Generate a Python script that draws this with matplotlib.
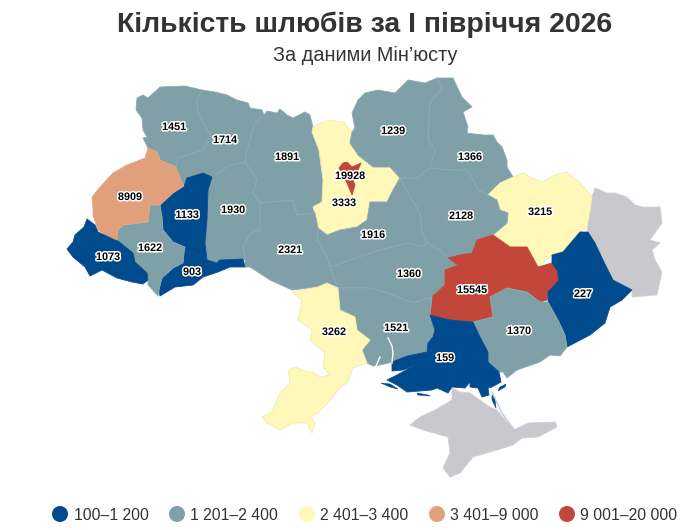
import numpy as np
import matplotlib
matplotlib.use("Agg")
import matplotlib.pyplot as plt
from matplotlib.patches import Polygon, Ellipse
import matplotlib.patheffects as pe

plt.rcParams['font.family'] = ['Liberation Sans', 'DejaVu Sans']

title = "Кількість шлюбів за І півріччя 2026"
subtitle = "За даними Мін’юсту"
legend_labels = ["100–1 200", "1 201–2 400", "2 401–3 400", "3 401–9 000", "9 001–20 000"]
bin_edges = [1200, 2400, 3400, 9000]
colors = ["#004b8d", "#7fa0a6", "#fff8b8", "#e0a07c", "#c2473a"]
edge_colors = ["#0a4f90", "#8dabb5", "#f0eab4", "#e0a884", "#c2473a"]
no_data_color = "#c8c8cd"

region_values = {
    "Volyn": 1451, "Rivne": 1714, "Zhytomyr": 1891, "Khmelnytskyi": 1930, "Ternopil": 1133,
    "Lviv": 8909, "IvanoFrankivsk": 1622, "Zakarpattia": 1073, "Chernivtsi": 903, "Vinnytsia": 2321,
    "KyivObl": 3333, "Chernihiv": 1239, "Sumy": 1366, "Poltava": 2128, "Cherkasy": 1916,
    "Kharkiv": 3215, "Kirovohrad": 1360, "Dnipro": 15545, "Donetsk": 227, "Odesa": 3262,
    "Mykolaiv": 1521, "Zaporizhzhia": 1370, "Kherson": 159, "KyivCity": 19928,
}

label_xy = {
    "Volyn": (174, 127), "Rivne": (225, 140), "Zhytomyr": (287, 157), "Khmelnytskyi": (233, 210),
    "Ternopil": (187, 215), "Lviv": (130, 197), "IvanoFrankivsk": (150, 248), "Zakarpattia": (108, 257),
    "Chernivtsi": (192, 272), "Vinnytsia": (290, 250), "KyivCity": (350, 176), "KyivObl": (344, 203),
    "Chernihiv": (393, 131), "Sumy": (470, 157), "Poltava": (461, 216), "Cherkasy": (373, 235),
    "Kharkiv": (540, 212), "Kirovohrad": (409, 274), "Dnipro": (472, 290), "Donetsk": (583, 294),
    "Odesa": (334, 332), "Mykolaiv": (396, 328), "Zaporizhzhia": (519, 331), "Kherson": (445, 358),
}

outlines = {
    "Volyn": [(137,98),(136,110),(142,118),(143,130),(147,137),(143,138),(148,148),(157,152),(160,160),(176,167),(177,168),(178,158),(202,150),(212,137),(198,113),(197,100),(202,90),(185,86),(160,87),(148,98),(143,95)],
    "Rivne": [(202,90),(215,92),(227,95),(237,100),(248,103),(250,108),(262,110),(264,115),(255,123),(247,150),(245,162),(230,165),(212,177),(203,173),(187,178),(184,186),(180,178),(176,167),(178,158),(202,150),(212,137),(198,113),(197,100)],
    "Zhytomyr": [(264,115),(267,111),(277,113),(280,109),(287,115),(293,118),(305,112),(310,115),(313,127),(312,132),(319,150),(323,180),(322,202),(313,207),(315,213),(297,215),(293,200),(260,203),(253,193),(257,180),(245,162),(247,150),(255,123)],
    "KyivObl": [(313,127),(327,120),(343,122),(352,132),(350,143),(358,155),(373,167),(390,167),(400,178),(393,190),(387,202),(370,202),(367,220),(357,227),(340,230),(327,235),(318,228),(315,213),(313,207),(322,202),(323,180),(319,150),(312,132)],
    "KyivCity": [(339,168),(343,163),(347,162),(352,167),(361,163),(358,170),(352,178),(355,185),(352,195),(347,183),(341,172)],
    "Chernihiv": [(352,113),(358,100),(365,93),(378,90),(395,93),(408,80),(425,83),(437,78),(442,88),(430,103),(428,140),(435,150),(430,168),(417,178),(400,178),(390,167),(373,167),(358,155),(350,143),(352,132),(355,128)],
    "Sumy": [(437,78),(453,78),(462,97),(472,107),(463,112),(468,127),(467,133),(483,135),(493,135),(497,142),(502,147),(507,160),(507,167),(513,177),(500,183),(488,195),(478,190),(468,170),(450,170),(430,168),(435,150),(428,140),(430,103),(442,88)],
    "Kharkiv": [(488,195),(500,183),(513,177),(523,173),(532,178),(542,182),(555,175),(567,172),(580,183),(592,197),(590,212),(587,227),(580,232),(563,252),(552,255),(538,267),(527,247),(510,247),(493,235),(507,223),(508,213),(500,210),(497,200)],
    "Poltava": [(400,178),(417,178),(430,168),(450,170),(468,170),(478,190),(488,195),(497,200),(500,210),(508,213),(507,223),(493,235),(477,240),(472,253),(448,258),(440,250),(427,243),(422,233),(420,213),(408,193)],
    "Cherkasy": [(327,235),(340,230),(357,227),(367,220),(370,202),(387,202),(393,190),(400,178),(408,193),(420,213),(422,233),(427,243),(422,247),(410,243),(380,250),(350,260),(330,267),(327,257),(317,240),(318,228)],
    "Vinnytsia": [(260,203),(293,200),(297,215),(315,213),(318,228),(317,240),(327,257),(330,267),(338,288),(327,283),(317,287),(292,290),(270,280),(250,267),(245,267),(245,260),(243,247),(250,233),(260,230)],
    "Khmelnytskyi": [(212,177),(230,165),(245,162),(257,180),(253,193),(260,203),(260,230),(250,233),(243,247),(245,259),(220,260),(217,263),(207,260),(205,243),(207,220),(208,190)],
    "Ternopil": [(187,178),(203,173),(212,177),(208,190),(207,220),(205,243),(207,260),(195,253),(184,253),(185,247),(173,242),(163,230),(162,217),(160,205),(173,193),(184,186)],
    "Chernivtsi": [(184,253),(195,253),(207,260),(217,263),(220,260),(243,259),(245,267),(230,267),(218,272),(203,277),(193,285),(175,287),(160,296),(159,290),(162,278),(173,268),(183,263)],
    "IvanoFrankivsk": [(150,205),(160,205),(162,217),(163,230),(173,242),(185,247),(184,253),(183,263),(173,268),(162,278),(159,290),(158,296),(148,285),(148,280),(147,273),(135,262),(133,253),(118,241),(117,240),(118,230),(123,225),(148,222)],
    "Lviv": [(148,148),(157,152),(160,160),(176,167),(180,178),(184,186),(173,193),(160,205),(150,205),(148,222),(123,225),(118,230),(117,240),(110,238),(98,230),(93,215),(93,208),(92,197),(100,187),(113,173),(127,165),(145,158)],
    "Zakarpattia": [(87,219),(95,225),(98,232),(115,240),(118,241),(133,253),(135,262),(147,273),(148,280),(143,284),(132,282),(117,278),(102,270),(90,276),(85,267),(73,257),(67,249),(73,242),(75,235),(84,227)],
    "Kirovohrad": [(330,267),(350,260),(380,250),(410,243),(422,247),(427,243),(440,250),(448,258),(458,265),(445,270),(445,285),(432,297),(413,303),(387,293),(370,288),(338,288)],
    "Dnipro": [(448,258),(460,255),(472,253),(477,240),(493,235),(510,247),(527,247),(538,267),(552,263),(557,270),(559,280),(548,292),(547,300),(540,302),(527,292),(507,288),(490,297),(493,317),(473,322),(450,320),(430,315),(432,297),(445,285),(445,270),(458,265)],
    "Donetsk": [(552,255),(563,252),(580,232),(588,232),(595,243),(603,260),(613,280),(632,290),(622,300),(610,307),(605,323),(590,335),(567,347),(565,335),(558,320),(548,302),(548,292),(559,280),(557,270),(552,263)],
    "Mykolaiv": [(338,288),(370,288),(387,293),(413,303),(432,297),(430,315),(435,330),(433,337),(428,343),(427,352),(407,356),(393,362),(380,365),(373,366),(367,363),(362,350),(370,340),(357,330),(355,317),(340,310)],
    "Zaporizhzhia": [(490,297),(507,288),(527,292),(540,302),(548,302),(558,320),(565,335),(567,347),(560,356),(550,355),(540,362),(517,370),(507,378),(503,372),(499,372),(488,362),(488,352),(480,337),(473,322),(493,317)],
    "Kherson": [(430,315),(450,320),(473,322),(480,337),(488,352),(488,362),(499,372),(501,382),(492,387),(488,388),(489,395),(482,397),(478,388),(470,387),(470,382),(465,388),(452,387),(448,393),(437,388),(432,390),(407,392),(397,385),(387,380),(397,375),(415,365),(403,370),(392,371),(392,362),(407,356),(427,352),(428,343),(433,337),(435,330)],
    "Odesa": [(292,292),(318,287),(327,283),(338,288),(340,310),(355,317),(357,330),(370,340),(362,350),(367,363),(353,368),(348,382),(340,388),(328,403),(318,413),(310,417),(315,423),(312,433),(307,423),(293,423),(280,430),(267,423),(262,417),(272,412),(280,393),(290,383),(288,370),(295,367),(307,372),(313,372),(320,377),(330,375),(323,367),(325,353),(310,340),(312,330),(298,320),(302,300)],
}

no_data_outlines = {
    "Luhansk": [(595,188),(607,193),(615,193),(627,197),(635,205),(643,207),(660,207),(662,223),(650,240),(660,243),(652,250),(655,260),(662,272),(657,295),(632,297),(632,290),(613,280),(603,260),(595,243),(588,232),(587,225),(592,197)],
    "Crimea": [(452,388),(460,392),(470,393),(477,398),(490,407),(497,410),(514,430),(528,423),(555,422),(557,427),(538,437),(522,438),(513,445),(497,450),(473,457),(460,473),(450,477),(443,468),(450,453),(448,437),(423,430),(410,425),(420,417),(435,410),(452,400)],
}

spits_navy = [
    [(381,383),(390,384),(398,389),(390,387)],
    [(417,393),(428,395),(430,396),(418,395)],
    [(492,395),(495,400),(496,408),(492,400)],
    [(498,391),(505,387),(506,384),(500,387)],
]
estuary_lines = [[(388,338),(392,346),(393,353),(392,363)], [(376,366),(380,357)]]
arabat_line = [(492,392),(502,413),(515,431)]

fig = plt.figure(figsize=(6.85, 5.30), dpi=100, facecolor="white")
ax = fig.add_axes([0, 0, 1, 1])
ax.set_xlim(0, 685)
ax.set_ylim(530, 0)
ax.axis("off")

for name, pts in no_data_outlines.items():
    ax.add_patch(Polygon(pts, closed=True, fc=no_data_color, ec="#d2d2d6", lw=0.6, zorder=1))

for name, pts in outlines.items():
    k = int(np.digitize(region_values[name], bin_edges, right=True))
    ax.add_patch(Polygon(pts, closed=True, fc=colors[k], ec=edge_colors[k], lw=0.6,
                         joinstyle="round", zorder=3 if name == "KyivCity" else 2))

for pts in spits_navy:
    ax.add_patch(Polygon(pts, closed=True, fc=colors[0], ec=colors[0], lw=0.4, zorder=2))
for pts in estuary_lines:
    xs, ys = zip(*pts)
    ax.plot(xs, ys, color="white", lw=1.0, zorder=2.5)
xs, ys = zip(*arabat_line)
ax.plot(xs, ys, color="#b4c6d6", lw=0.9, zorder=2.5)

halo = [pe.withStroke(linewidth=2.2, foreground="white")]
for name, (x, y) in label_xy.items():
    ax.text(x, y, str(region_values[name]), ha="center", va="center", fontsize=7.8,
            fontweight="bold", color="black", path_effects=halo, zorder=5)

ax.text(364.5, 25, title, ha="center", va="center", fontsize=20.4, fontweight="bold", color="#333333")
ax.text(365, 55, subtitle, ha="center", va="center", fontsize=14.3, color="#333333")

legend_dots = [60, 177, 307, 437, 567]
legend_text_x = [74, 190, 320, 450, 580]
for i, lab in enumerate(legend_labels):
    ax.add_patch(Ellipse((legend_dots[i], 514), 16, 16, fc=colors[i], ec="none"))
    ax.text(legend_text_x[i], 515, lab, ha="left", va="center", fontsize=11.3, color="#333333")

fig.savefig("out.png", dpi=100)
